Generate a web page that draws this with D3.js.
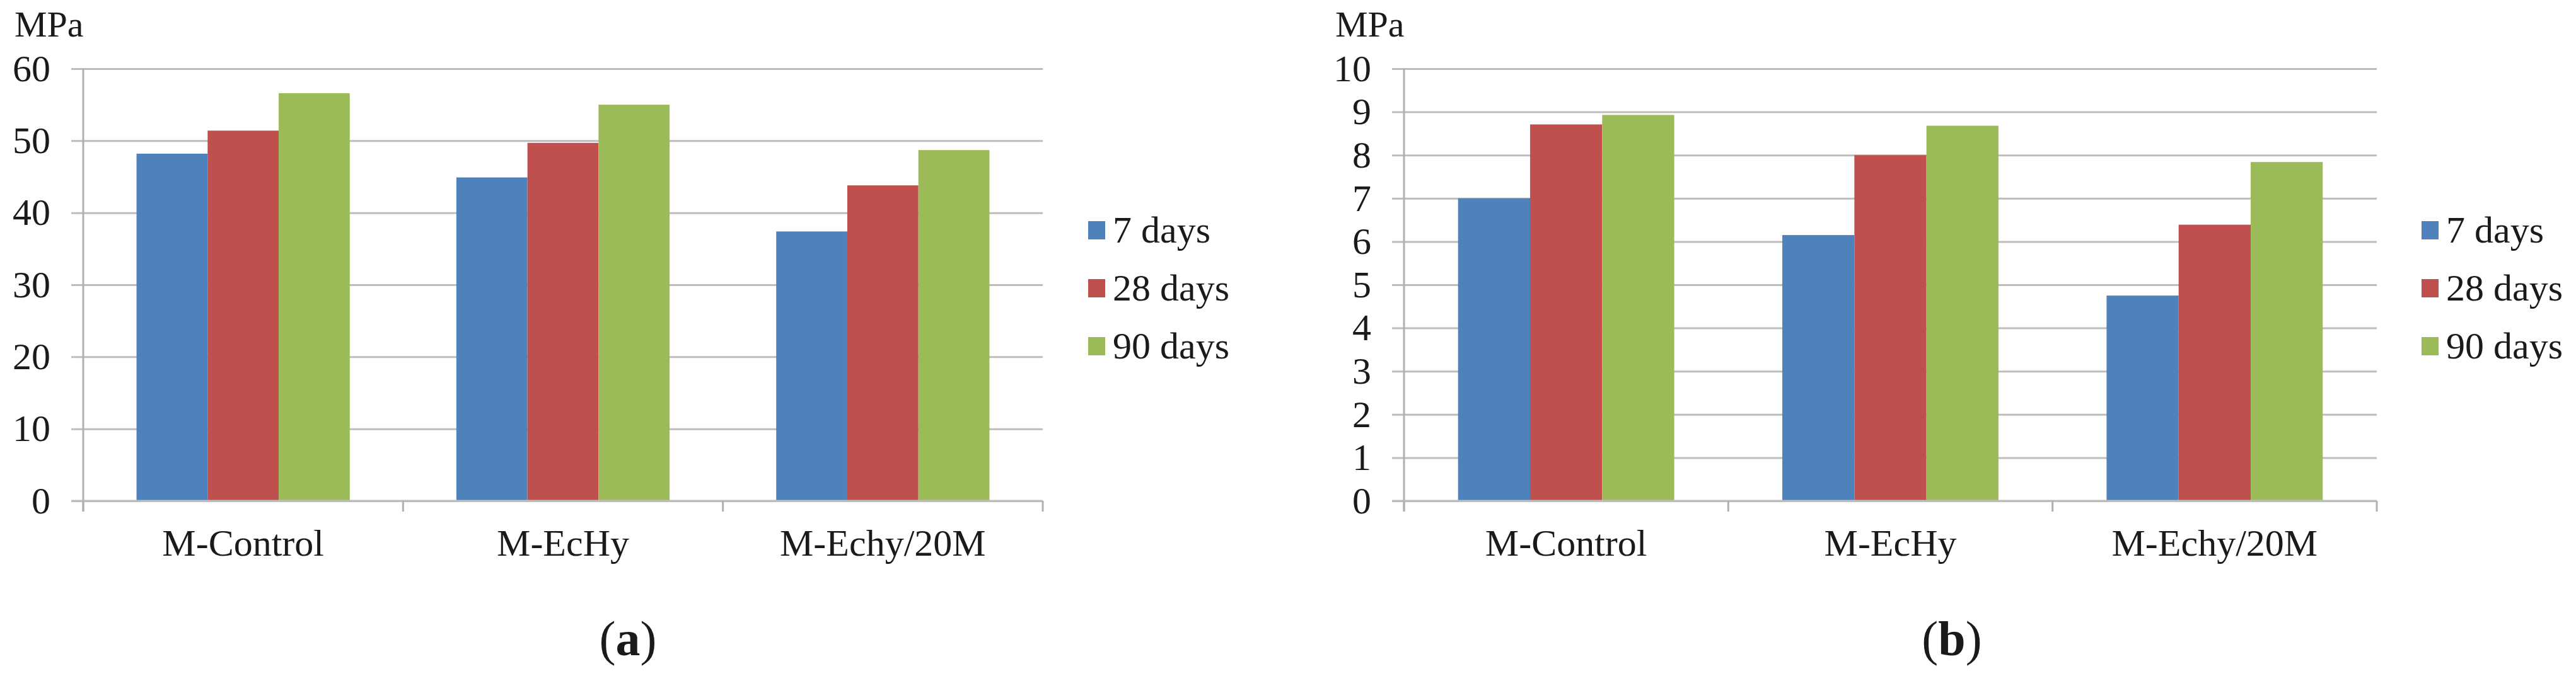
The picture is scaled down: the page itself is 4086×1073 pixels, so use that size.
<!DOCTYPE html>
<html>
<head>
<meta charset="utf-8">
<script src="https://cdn.jsdelivr.net/npm/d3@7"></script>
<style>
  html, body { margin: 0; padding: 0; background: #ffffff; }
  svg { display: block; }
  text { font-family: "Liberation Serif", "Times New Roman", serif; fill: #1a1a1a; }
</style>
</head>
<body>
<svg id="chart" width="4086" height="1073"></svg>
<script>
// ---- Data ----
const categories = ["M-Control", "M-EcHy", "M-Echy/20M"];
const seriesNames = ["7 days", "28 days", "90 days"];
const seriesColors = ["#4f81bd", "#c0504d", "#9bbb59"];

// (a) compressive strength, MPa
const panelA_7days  = [48.2, 44.9, 37.4];
const panelA_28days = [51.4, 49.7, 43.8];
const panelA_90days = [56.6, 55.0, 48.7];
const panelA_ticks  = [0, 10, 20, 30, 40, 50, 60];

// (b) flexural strength, MPa
const panelB_7days  = [7.0, 6.15, 4.75];
const panelB_28days = [8.71, 8.0, 6.39];
const panelB_90days = [8.93, 8.68, 7.84];
const panelB_ticks  = [0, 1, 2, 3, 4, 5, 6, 7, 8, 9, 10];

const unitLabel = "MPa";
const captions = ["a", "b"];

// ---- Drawing ----
const svg = d3.select("#chart");
svg.append("rect").attr("width", 4086).attr("height", 1073).attr("fill", "#ffffff");

function drawPanel(opts) {
  const { left, right, top, bottom, series, ticks, legendX, caption, captionX } = opts;
  const W = right - left, H = bottom - top;
  const g = svg.append("g").attr("transform", `translate(${left},${top})`);

  const y = d3.scaleLinear().domain([0, d3.max(ticks)]).range([H, 0]);
  const x0 = d3.scaleBand().domain(categories).range([0, W]).paddingInner(0).paddingOuter(0);
  const x1 = d3.scaleBand().domain(seriesNames).range([0, x0.bandwidth()]).paddingInner(0).paddingOuter(0.75);

  // Y axis with gridlines
  const yAxis = g.append("g")
    .call(d3.axisLeft(y).tickValues(ticks).tickSize(-W).tickPadding(52).tickFormat(d3.format("d")));
  yAxis.select(".domain").remove();
  yAxis.selectAll(".tick line").attr("x1", -19).attr("stroke", "#bdbdbd").attr("stroke-width", 3);
  yAxis.selectAll(".tick text").attr("font-size", 60).attr("fill", "#1a1a1a")
    .attr("font-family", "'Liberation Serif', serif");

  // vertical axis line
  g.append("line").attr("x1", 0).attr("x2", 0).attr("y1", y(d3.max(ticks))).attr("y2", H + 17)
    .attr("stroke", "#b0b0b0").attr("stroke-width", 3);

  // bars
  const rows = categories.map((c, i) => ({ cat: c, vals: seriesNames.map((s, j) => ({ s, v: series[j][i], color: seriesColors[j] })) }));
  const grp = g.selectAll("g.cat").data(rows).join("g").attr("class", "cat")
    .attr("transform", d => `translate(${x0(d.cat)},0)`);
  grp.selectAll("rect").data(d => d.vals).join("rect")
    .attr("x", d => x1(d.s)).attr("width", x1.bandwidth())
    .attr("y", d => y(d.v)).attr("height", d => H - y(d.v))
    .attr("fill", d => d.color);

  // x axis baseline + category boundary ticks
  g.append("line").attr("x1", -19).attr("x2", W).attr("y1", H).attr("y2", H)
    .attr("stroke", "#bdbdbd").attr("stroke-width", 3);
  const bounds = categories.map(c => x0(c)).concat([x0(categories[categories.length - 1]) + x0.bandwidth()]);
  g.selectAll("line.xt").data(bounds).join("line").attr("class", "xt")
    .attr("x1", d => d).attr("x2", d => d).attr("y1", H).attr("y2", H + 17)
    .attr("stroke", "#b0b0b0").attr("stroke-width", 3);

  // category labels
  const xAxis = g.append("g").attr("transform", `translate(0,${H})`)
    .call(d3.axisBottom(x0).tickSize(0).tickPadding(44));
  xAxis.select(".domain").remove();
  xAxis.selectAll(".tick text").attr("font-size", 60).attr("fill", "#1a1a1a")
    .attr("font-family", "'Liberation Serif', serif");

  // unit label
  svg.append("text").attr("x", left - 109).attr("y", 58).attr("font-size", 58).text(unitLabel);

  // legend
  const centers = [365, 457, 549];
  const lg = svg.append("g");
  seriesNames.forEach((s, j) => {
    lg.append("rect").attr("x", legendX).attr("y", centers[j] - 14).attr("width", 27).attr("height", 29)
      .attr("fill", seriesColors[j]);
    lg.append("text").attr("x", legendX + 39).attr("y", centers[j] + 20).attr("font-size", 60).text(s);
  });

  // caption
  const cap = svg.append("text").attr("x", captionX).attr("y", 1040).attr("font-size", 78).attr("text-anchor", "middle");
  cap.append("tspan").text("(");
  cap.append("tspan").attr("font-weight", "bold").text(caption);
  cap.append("tspan").text(")");
}

drawPanel({
  left: 132, right: 1654, top: 109, bottom: 795,
  series: [panelA_7days, panelA_28days, panelA_90days],
  ticks: panelA_ticks, legendX: 1726, caption: captions[0], captionX: 996
});

drawPanel({
  left: 2227, right: 3770, top: 109, bottom: 795,
  series: [panelB_7days, panelB_28days, panelB_90days],
  ticks: panelB_ticks, legendX: 3841, caption: captions[1], captionX: 3096
});
</script>
</body>
</html>
